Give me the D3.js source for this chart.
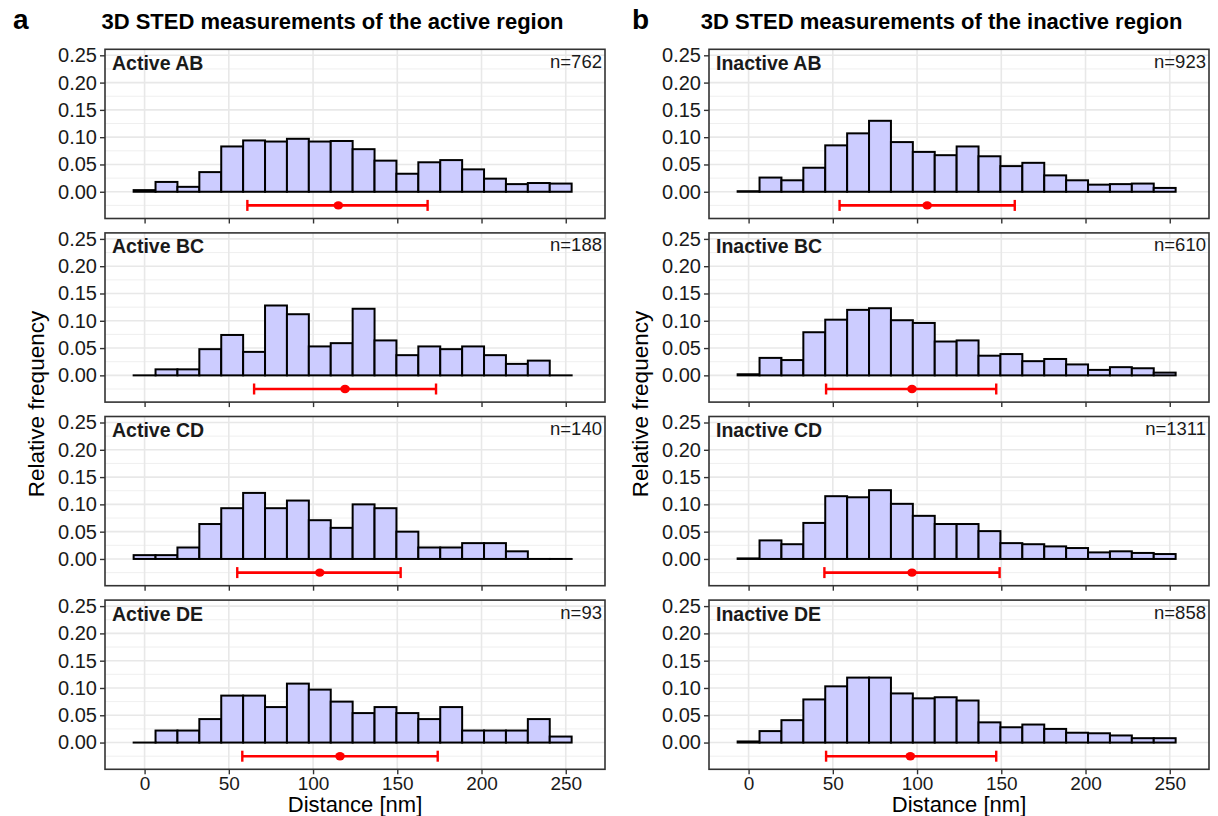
<!DOCTYPE html>
<html>
<head>
<meta charset="utf-8">
<script src="https://cdn.jsdelivr.net/npm/d3@7"></script>
<style>
  body { margin: 0; background: #fff; }
  text { font-family: "Liberation Sans", Arial, Helvetica, sans-serif; }
</style>
</head>
<body>
<div id="chart"></div>
<script>
// histogram bins: 20 bins of 13 nm, first one centred on 0
var binStart = -6.5, binWidth = 13, binCount = 20;

var columnTitles = ['3D STED measurements of the active region', '3D STED measurements of the inactive region'];
var columnLetters = ['a', 'b'];

var activeNames = ['Active AB', 'Active BC', 'Active CD', 'Active DE'];
var inactiveNames = ['Inactive AB', 'Inactive BC', 'Inactive CD', 'Inactive DE'];
var activeN = [762, 188, 140, 93];
var inactiveN = [923, 610, 1311, 858];

// relative frequencies
var activeAB = [0.003, 0.018, 0.009, 0.036, 0.083, 0.094, 0.092, 0.097, 0.092, 0.093, 0.078, 0.057, 0.033, 0.054, 0.058, 0.041, 0.024, 0.014, 0.016, 0.015];
var activeBC = [0, 0.011, 0.011, 0.048, 0.074, 0.043, 0.128, 0.112, 0.053, 0.059, 0.122, 0.064, 0.037, 0.053, 0.048, 0.053, 0.037, 0.021, 0.027, 0];
var activeCD = [0.007, 0.007, 0.021, 0.064, 0.093, 0.121, 0.093, 0.107, 0.071, 0.057, 0.100, 0.093, 0.050, 0.021, 0.021, 0.029, 0.029, 0.014, 0, 0];
var activeDE = [0, 0.022, 0.022, 0.043, 0.086, 0.086, 0.065, 0.108, 0.097, 0.075, 0.054, 0.065, 0.054, 0.043, 0.065, 0.022, 0.022, 0.022, 0.043, 0.011];

var inactiveAB = [0.001, 0.026, 0.021, 0.044, 0.085, 0.107, 0.130, 0.091, 0.073, 0.067, 0.083, 0.065, 0.047, 0.053, 0.030, 0.021, 0.013, 0.014, 0.015, 0.007];
var inactiveBC = [0.002, 0.032, 0.028, 0.079, 0.102, 0.120, 0.123, 0.101, 0.096, 0.062, 0.064, 0.036, 0.039, 0.026, 0.030, 0.020, 0.010, 0.015, 0.013, 0.005];
var inactiveCD = [0.001, 0.034, 0.027, 0.066, 0.115, 0.113, 0.126, 0.101, 0.079, 0.064, 0.064, 0.051, 0.029, 0.027, 0.023, 0.020, 0.012, 0.014, 0.011, 0.009];
var inactiveDE = [0.002, 0.021, 0.041, 0.079, 0.103, 0.119, 0.119, 0.090, 0.081, 0.083, 0.077, 0.037, 0.028, 0.033, 0.025, 0.018, 0.017, 0.013, 0.008, 0.008];

// mean and spread shown in red under each histogram (nm)
var activeMean = [115, 119, 104, 116];
var activeLow = [61, 65, 55, 58];
var activeHigh = [168, 173, 152, 174];
var inactiveMean = [106, 97, 97, 96];
var inactiveLow = [54, 46, 45, 46];
var inactiveHigh = [158, 147, 149, 147];

var xTicks = [0, 50, 100, 150, 200, 250];
var yTicks = [0, 0.05, 0.10, 0.15, 0.20, 0.25];
var yMinor = [-0.025, 0.025, 0.075, 0.125, 0.175, 0.225];

var columns = [
  { names: activeNames, n: activeN, data: [activeAB, activeBC, activeCD, activeDE], mean: activeMean, low: activeLow, high: activeHigh },
  { names: inactiveNames, n: inactiveN, data: [inactiveAB, inactiveBC, inactiveCD, inactiveDE], mean: inactiveMean, low: inactiveLow, high: inactiveHigh }
];

var W = 1218, H = 816;
var panelLeft = [105, 709], panelW = 500;
var panelTop = 49.3, panelH = 169.2, panelStep = 183.6;
var letterX = [13, 632], titleX = [332.5, 941.5];
var fontFam = '"Liberation Sans", Arial, sans-serif';

var svg = d3.select("#chart")
  .append("svg")
  .attr("width", W)
  .attr("height", H);

var x = d3.scaleLinear().domain([-23.5, 273.3]).range([0, panelW]);
var y = d3.scaleLinear().domain([-0.049, 0.261]).range([panelH, 0]);

function binX0(i) { return x(binStart + i * binWidth); }
function binX1(i) { return x(binStart + (i + 1) * binWidth); }

columns.forEach(function (col, c) {
  var left = panelLeft[c];

  // letter and title
  svg.append("text")
    .attr("x", letterX[c])
    .attr("y", 29)
    .attr("font-size", 28)
    .attr("font-weight", "bold")
    .text(columnLetters[c]);
  svg.append("text")
    .attr("x", titleX[c])
    .attr("y", 28.5)
    .attr("text-anchor", "middle")
    .attr("font-size", 22)
    .attr("font-weight", "bold")
    .text(columnTitles[c]);

  // y axis title
  svg.append("text")
    .attr("transform", "translate(" + (left - 61) + ",404) rotate(-90)")
    .attr("text-anchor", "middle")
    .attr("font-size", 22.5)
    .text("Relative frequency");

  col.data.forEach(function (vals, p) {
    var g = svg.append("g")
      .attr("transform", "translate(" + left + "," + (panelTop + p * panelStep) + ")");

    // grid
    g.selectAll(".minor").data(yMinor).enter().append("line")
      .attr("x1", 0).attr("x2", panelW)
      .attr("y1", function (d) { return y(d); })
      .attr("y2", function (d) { return y(d); })
      .attr("stroke", "#ededed").attr("stroke-width", 0.9);
    g.selectAll(".majorY").data(yTicks).enter().append("line")
      .attr("x1", 0).attr("x2", panelW)
      .attr("y1", function (d) { return y(d); })
      .attr("y2", function (d) { return y(d); })
      .attr("stroke", "#e8e8e8").attr("stroke-width", 1.6);
    g.selectAll(".majorX").data(xTicks).enter().append("line")
      .attr("y1", 0).attr("y2", panelH)
      .attr("x1", function (d) { return x(d); })
      .attr("x2", function (d) { return x(d); })
      .attr("stroke", "#e8e8e8").attr("stroke-width", 1.6);

    // bars (empty bins still show as a flat line on the baseline)
    g.selectAll(".bar").data(vals).enter().append("rect")
      .attr("x", function (d, i) { return binX0(i); })
      .attr("width", function (d, i) { return binX1(i) - binX0(i); })
      .attr("y", function (d) { return y(d); })
      .attr("height", function (d) { return y(0) - y(d); })
      .attr("fill", "#ccccff")
      .attr("stroke", "#000")
      .attr("stroke-width", 2);
    g.selectAll(".empty").data(vals.map(function (d, i) { return { v: d, i: i }; })
      .filter(function (d) { return d.v === 0; }))
      .enter().append("line")
      .attr("x1", function (d) { return binX0(d.i) - 1; })
      .attr("x2", function (d) { return binX1(d.i) + 1; })
      .attr("y1", y(0)).attr("y2", y(0))
      .attr("stroke", "#000").attr("stroke-width", 2);

    // red range with mean
    var ey = y(-0.025);
    g.append("line")
      .attr("x1", x(col.low[p])).attr("x2", x(col.high[p]))
      .attr("y1", ey).attr("y2", ey)
      .attr("stroke", "#ff0000").attr("stroke-width", 2.6);
    [col.low[p], col.high[p]].forEach(function (v) {
      g.append("line")
        .attr("x1", x(v)).attr("x2", x(v))
        .attr("y1", ey - 5.5).attr("y2", ey + 5.5)
        .attr("stroke", "#ff0000").attr("stroke-width", 2.4);
    });
    g.append("ellipse")
      .attr("cx", x(col.mean[p])).attr("cy", ey).attr("rx", 4.8).attr("ry", 4.2)
      .attr("fill", "#ff0000");

    // frame
    g.append("rect")
      .attr("width", panelW).attr("height", panelH)
      .attr("fill", "none").attr("stroke", "#333").attr("stroke-width", 1.6);

    // axes
    var yAxis = g.append("g")
      .call(d3.axisLeft(y).tickValues(yTicks).tickFormat(d3.format(".2f")).tickSize(5).tickPadding(3));
    yAxis.select(".domain").remove();
    yAxis.selectAll("line").attr("stroke", "#333").attr("stroke-width", 1.4);
    yAxis.selectAll("text").attr("font-size", 20).attr("fill", "#1a1a1a")
      .attr("font-family", fontFam);

    var xAxis = g.append("g")
      .attr("transform", "translate(0," + panelH + ")")
      .call(d3.axisBottom(x).tickValues(xTicks).tickSize(5).tickPadding(2)
        .tickFormat(p === 3 ? d3.format("d") : ""));
    xAxis.select(".domain").remove();
    xAxis.selectAll("line").attr("stroke", "#333").attr("stroke-width", 1.4);
    xAxis.selectAll("text").attr("font-size", 19).attr("fill", "#1a1a1a")
      .attr("font-family", fontFam);

    // panel labels
    g.append("text")
      .attr("x", 7).attr("y", 20.5)
      .attr("font-size", 19.5).attr("font-weight", "bold").attr("fill", "#1a1a1a")
      .text(col.names[p]);
    g.append("text")
      .attr("x", panelW - 3).attr("y", 18.5)
      .attr("text-anchor", "end")
      .attr("font-size", 18.5).attr("fill", "#1a1a1a")
      .text("n=" + col.n[p]);
  });

  svg.append("text")
    .attr("x", left + panelW / 2)
    .attr("y", 812)
    .attr("text-anchor", "middle")
    .attr("font-size", 22)
    .text("Distance [nm]");
});
</script>
</body>
</html>
